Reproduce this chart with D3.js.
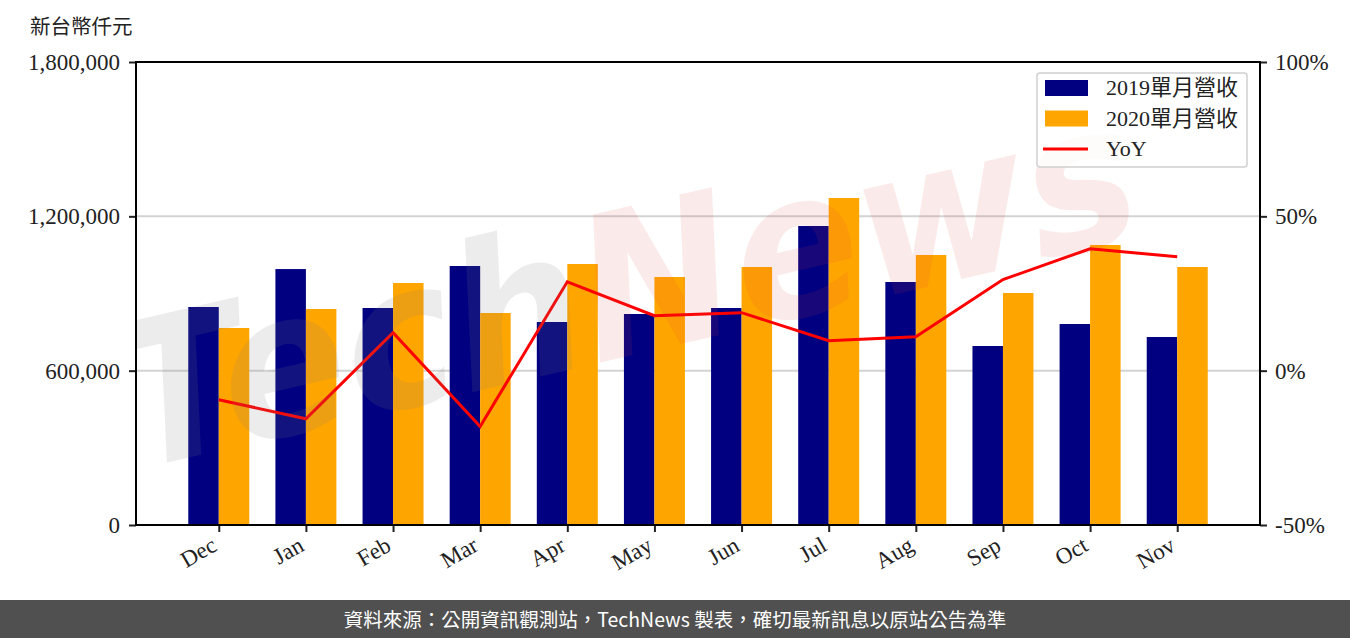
<!DOCTYPE html>
<html>
<head>
<meta charset="utf-8">
<script src="https://cdn.jsdelivr.net/npm/d3@7"></script>
<style>
  body { margin: 0; background: #fff; }
  svg { display: block; }
</style>
</head>
<body>
<svg id="chart" width="1350" height="638"></svg>
<script>
// monthly revenue, thousand NTD
const months = ['Dec', 'Jan', 'Feb', 'Mar', 'Apr', 'May', 'Jun', 'Jul', 'Aug', 'Sep', 'Oct', 'Nov'];
const rev2019 = [847500, 995000, 843600, 1006900, 789200, 820300, 843600, 1162400, 944700, 695900, 781400, 730900];
const rev2020 = [765900, 839700, 940800, 824200, 1014700, 964100, 1003000, 1271300, 1049700, 901900, 1088500, 1003000];
const yoy = [-9.4, -15.6, 12.3, -18.1, 28.8, 17.8, 18.8, 9.7, 11.0, 29.5, 39.5, 36.9];
const leftTicks = [0, 600000, 1200000, 1800000];
const rightTicks = [-50, 0, 50, 100];

const serif = "'Liberation Serif', 'Noto Sans CJK TC', serif";
const cjk = "'Noto Sans CJK TC', sans-serif";

const svg = d3.select('#chart');
const L = 136, R = 1260, T = 62, B = 525;

const x = d3.scaleLinear().domain([-0.95, 11.95]).range([L, R]);
const y = d3.scaleLinear().domain([0, 1800000]).range([B, T]);
const y2 = d3.scaleLinear().domain([-50, 100]).range([B, T]);
const bw = x(0.35) - x(0);

svg.append('clipPath').attr('id', 'plotClip')
  .append('rect').attr('x', L).attr('y', T).attr('width', R - L).attr('height', B - T);

// gridlines
svg.append('g')
  .selectAll('line')
  .data(leftTicks.slice(1, 3))
  .join('line')
  .attr('x1', L).attr('x2', R)
  .attr('y1', d => y(d)).attr('y2', d => y(d))
  .attr('stroke', '#d3d3d3')
  .attr('stroke-width', 2);

// bars
svg.append('g')
  .selectAll('rect')
  .data(rev2019)
  .join('rect')
  .attr('x', (d, i) => x(i) - bw)
  .attr('y', d => y(d))
  .attr('width', bw)
  .attr('height', d => B - y(d))
  .attr('fill', '#000080');

svg.append('g')
  .selectAll('rect')
  .data(rev2020)
  .join('rect')
  .attr('x', (d, i) => x(i))
  .attr('y', d => y(d))
  .attr('width', bw)
  .attr('height', d => B - y(d))
  .attr('fill', '#ffa500');

// yoy line
svg.append('path')
  .datum(yoy)
  .attr('fill', 'none')
  .attr('stroke', '#ff0000')
  .attr('stroke-width', 3)
  .attr('d', d3.line().x((d, i) => x(i)).y(d => y2(d)));

// watermark
const wm = svg.append('g').attr('clip-path', 'url(#plotClip)')
  .append('text')
  .attr('transform', 'translate(135,470) rotate(-13)')
  .attr('font-family', "'DejaVu Sans', sans-serif")
  .attr('font-weight', 'bold')
  .attr('font-style', 'italic')
  .attr('font-size', 200)
  .attr('textLength', 1040)
  .attr('lengthAdjust', 'spacingAndGlyphs');
wm.append('tspan').text('Tech').attr('fill', 'rgba(128,128,128,0.15)');
wm.append('tspan').text('News').attr('fill', 'rgba(215,60,60,0.11)');

// axes
const axisStyle = g => {
  g.select('.domain').remove();
  g.selectAll('.tick line').attr('stroke', '#222').attr('stroke-width', 2);
  g.selectAll('.tick text').attr('fill', '#222').attr('font-family', serif).attr('font-size', 23);
};

svg.append('g')
  .attr('transform', `translate(${L},0)`)
  .call(d3.axisLeft(y).tickValues(leftTicks).tickSize(7).tickPadding(9).tickFormat(d3.format(',')))
  .call(axisStyle);

svg.append('g')
  .attr('transform', `translate(${R},0)`)
  .call(d3.axisRight(y2).tickValues(rightTicks).tickSize(7).tickPadding(8).tickFormat(d => d + '%'))
  .call(axisStyle);

const xAxis = svg.append('g')
  .attr('transform', `translate(0,${B})`)
  .call(d3.axisBottom(x).tickValues(d3.range(12)).tickSize(7).tickFormat(i => months[i]))
  .call(axisStyle);
xAxis.selectAll('.tick text')
  .attr('text-anchor', 'end')
  .attr('dy', 0)
  .attr('transform', 'translate(-6,16) rotate(-30)');

// frame
svg.append('rect')
  .attr('x', L).attr('y', T)
  .attr('width', R - L).attr('height', B - T)
  .attr('fill', 'none')
  .attr('stroke', '#000')
  .attr('stroke-width', 2);

// unit label
svg.append('text')
  .attr('x', 30).attr('y', 34)
  .attr('font-family', cjk)
  .attr('font-size', 20.5)
  .attr('fill', '#222')
  .text('新台幣仟元');

// legend
const lg = svg.append('g').attr('transform', 'translate(1037,73)');
lg.append('rect')
  .attr('width', 210).attr('height', 94).attr('rx', 3)
  .attr('fill', 'rgba(255,255,255,0.8)')
  .attr('stroke', '#d0d0d0').attr('stroke-width', 1.5);
const legendItems = [
  { label: '2019單月營收', color: '#000080', type: 'bar' },
  { label: '2020單月營收', color: '#ffa500', type: 'bar' },
  { label: 'YoY', color: '#ff0000', type: 'line' }
];
legendItems.forEach(function(item, i) {
  const cy = 15 + i * 30.5;
  if (item.type == 'bar') {
    lg.append('rect').attr('x', 8).attr('y', cy - 8).attr('width', 43).attr('height', 16).attr('fill', item.color);
  } else {
    lg.append('line').attr('x1', 6).attr('x2', 51).attr('y1', cy).attr('y2', cy)
      .attr('stroke', item.color).attr('stroke-width', 3);
  }
  lg.append('text')
    .attr('x', 69).attr('y', cy + 7)
    .attr('font-family', serif)
    .attr('font-size', 22)
    .attr('fill', '#222')
    .text(item.label);
});

// footer
svg.append('rect')
  .attr('x', 0).attr('y', 600)
  .attr('width', 1350).attr('height', 38)
  .attr('fill', '#505050');
svg.append('text')
  .attr('x', 675).attr('y', 627)
  .attr('text-anchor', 'middle')
  .attr('font-family', cjk)
  .attr('font-size', 19.5)
  .attr('fill', '#fff')
  .text('資料來源：公開資訊觀測站，TechNews 製表，確切最新訊息以原站公告為準');
</script>
</body>
</html>
